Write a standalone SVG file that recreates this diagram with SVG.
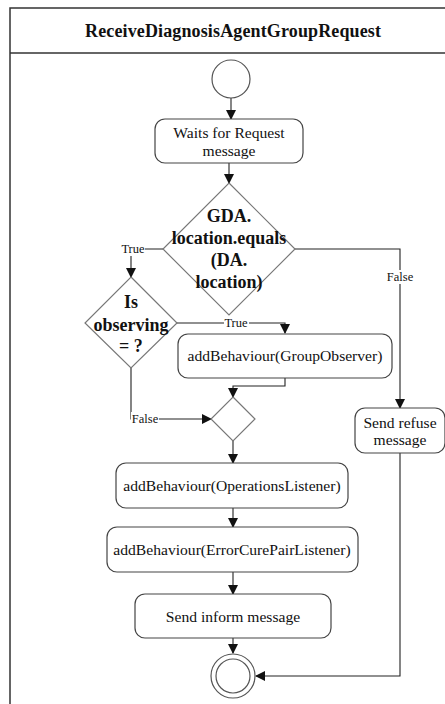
<svg xmlns="http://www.w3.org/2000/svg" width="445" height="704" viewBox="0 0 445 704">
  <style>
    text { font-family: 'Liberation Serif', 'DejaVu Serif', serif; fill: #111; text-anchor: middle; }
    .title { font-size: 18px; font-weight: bold; }
    .lbl { font-size: 15.6px; }
    .cond { font-size: 18px; font-weight: bold; }
    .guard { font-size: 12.5px; }
    .box { fill: #fff; stroke: #444; stroke-width: 1.2; }
    .dia { fill: #fff; stroke: #777; stroke-width: 1.2; }
    .circ { fill: #fff; stroke: #555; stroke-width: 1.2; }
    .edge { fill: none; stroke: #222; stroke-width: 1.1; }
    .frame { fill: none; stroke: #333; stroke-width: 1.5; }
    .gbg { fill: #fff; }
  </style>
  <defs>
    <marker id="arrow" markerWidth="10" markerHeight="10" refX="9" refY="5" orient="auto" markerUnits="userSpaceOnUse">
      <path d="M0,0 L10,5 L0,10 Z" fill="#111"/>
    </marker>
  </defs>

  <rect width="445" height="704" fill="#fff"/>

  <!-- activity frame with header -->
  <g id="frame">
    <path class="frame" d="M445,8 H10 V704"/>
    <line class="frame" x1="10" y1="53" x2="445" y2="53"/>
    <text class="title" x="233" y="37" textLength="296" lengthAdjust="spacing">ReceiveDiagnosisAgentGroupRequest</text>
  </g>

  <!-- connectors -->
  <g id="connectors">
    <line class="edge" x1="231" y1="98" x2="231" y2="119" marker-end="url(#arrow)"/>
    <line class="edge" x1="229" y1="163" x2="229" y2="183" marker-end="url(#arrow)"/>
    <!-- false: not same location -->
    <path class="edge" d="M295,249 H400 V408" marker-end="url(#arrow)"/>
    <!-- true: same location -->
    <path class="edge" d="M163,249 H131 V277" marker-end="url(#arrow)"/>
    <!-- observing true -->
    <path class="edge" d="M177,323 H285 V333" marker-end="url(#arrow)"/>
    <!-- group observer to merge -->
    <path class="edge" d="M285,378 V386 H233 V397" marker-end="url(#arrow)"/>
    <!-- observing false -->
    <path class="edge" d="M131,368 V419 H211" marker-end="url(#arrow)"/>
    <line class="edge" x1="233" y1="441" x2="233" y2="463" marker-end="url(#arrow)"/>
    <line class="edge" x1="233" y1="508" x2="233" y2="527" marker-end="url(#arrow)"/>
    <line class="edge" x1="233" y1="572" x2="233" y2="594" marker-end="url(#arrow)"/>
    <line class="edge" x1="233" y1="638" x2="233" y2="653" marker-end="url(#arrow)"/>
    <!-- refuse to final -->
    <path class="edge" d="M400,453 V676 H256" marker-end="url(#arrow)"/>

    <!-- guard labels -->
    <rect class="gbg" x="121" y="242" width="24" height="14"/>
    <text class="guard" x="133" y="253">True</text>
    <rect class="gbg" x="385" y="270" width="30" height="14"/>
    <text class="guard" x="400" y="281">False</text>
    <rect class="gbg" x="224" y="316" width="25" height="14"/>
    <text class="guard" x="236" y="327">True</text>
    <rect class="gbg" x="131" y="412" width="28" height="14"/>
    <text class="guard" x="145" y="423">False</text>
  </g>

  <g id="start">
    <circle class="circ" cx="231" cy="79" r="19"/>
  </g>

  <g id="waitRequest">
    <rect class="box" x="155" y="119" width="148" height="44" rx="10"/>
    <text class="lbl" x="229" y="138">Waits for Request</text>
    <text class="lbl" x="229" y="156">message</text>
  </g>

  <g id="locationCheck">
    <polygon class="dia" points="229,183 295,249 229,315 163,249"/>
    <text class="cond" x="229" y="222">GDA.</text>
    <text class="cond" x="229" y="244">location.equals</text>
    <text class="cond" x="229" y="266">(DA.</text>
    <text class="cond" x="229" y="288">location)</text>
  </g>

  <g id="observingCheck">
    <polygon class="dia" points="131,277 177,323 131,368 85,323"/>
    <text class="cond" x="131" y="308">Is</text>
    <text class="cond" x="131" y="331">observing</text>
    <text class="cond" x="131" y="352">= ?</text>
  </g>

  <g id="addGroupObserver">
    <rect class="box" x="178" y="334" width="214" height="44" rx="10"/>
    <text class="lbl" x="285" y="361">addBehaviour(GroupObserver)</text>
  </g>

  <g id="merge">
    <polygon class="dia" points="233,397 255,419 233,441 211,419"/>
  </g>

  <g id="sendRefuse">
    <rect class="box" x="355" y="408" width="90" height="45" rx="10"/>
    <text class="lbl" x="400" y="428">Send refuse</text>
    <text class="lbl" x="400" y="445">message</text>
  </g>

  <g id="addOperationsListener">
    <rect class="box" x="116" y="463" width="232" height="45" rx="10"/>
    <text class="lbl" x="232" y="491">addBehaviour(OperationsListener)</text>
  </g>

  <g id="addErrorCurePairListener">
    <rect class="box" x="107" y="527" width="251" height="45" rx="10"/>
    <text class="lbl" x="232" y="555">addBehaviour(ErrorCurePairListener)</text>
  </g>

  <g id="sendInform">
    <rect class="box" x="135" y="594" width="196" height="44" rx="10"/>
    <text class="lbl" x="233" y="622">Send inform message</text>
  </g>

  <g id="final">
    <circle class="circ" cx="233" cy="676" r="22"/>
    <circle class="circ" cx="233" cy="676" r="17"/>
  </g>
</svg>
